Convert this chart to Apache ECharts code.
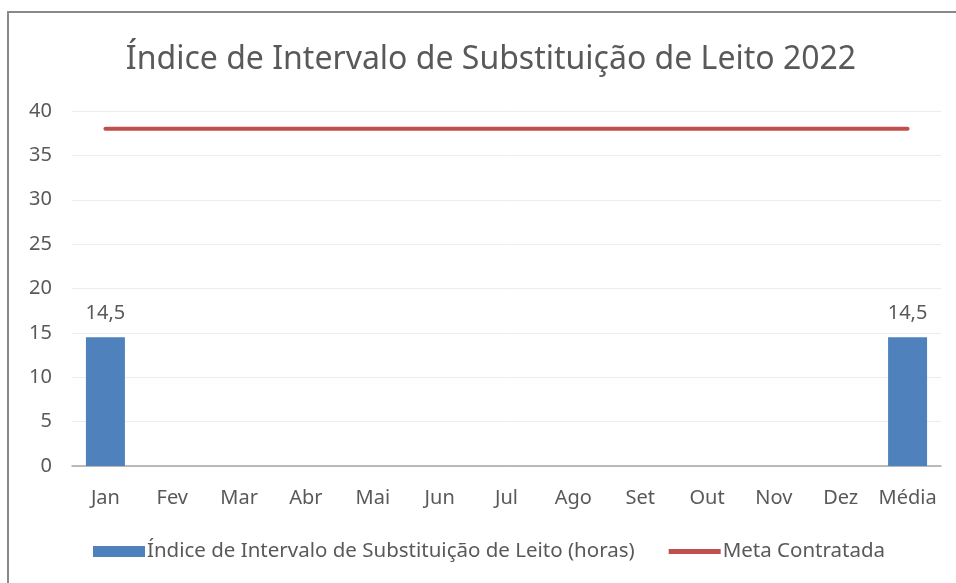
<!DOCTYPE html>
<html>
<head>
<meta charset="utf-8">
<script src="https://cdn.jsdelivr.net/npm/echarts@6/dist/echarts.min.js"></script>
<style>
  html, body { margin: 0; padding: 0; background: #fff; }
  #chart { width: 956px; height: 583px; }
</style>
</head>
<body>
<div id="chart"></div>
<script>
const meses = ['Jan', 'Fev', 'Mar', 'Abr', 'Mai', 'Jun', 'Jul', 'Ago', 'Set', 'Out', 'Nov', 'Dez', 'Média'];
const indiceHoras = [14.5, null, null, null, null, null, null, null, null, null, null, null, 14.5];
const metaContratada = [38, 38, 38, 38, 38, 38, 38, 38, 38, 38, 38, 38, 38];

const fonte = '"Noto Sans", sans-serif';
const cinza = '#595959';

let myChart = echarts.init(document.getElementById('chart'));
let option = {
  animation: false,
  textStyle: { fontFamily: fonte },
  title: {
    text: 'Índice de Intervalo de Substituição de Leito 2022',
    left: 486,
    textAlign: 'center',
    top: 39,
    textStyle: { fontFamily: fonte, fontSize: 32, fontWeight: 'normal', color: cinza }
  },
  graphic: [{
    type: 'rect',
    shape: { x: 8, y: 12, width: 1000, height: 1000 },
    style: { fill: 'none', stroke: '#898989', lineWidth: 2 },
    silent: true
  }],
  grid: { left: 72, right: 15, top: 111, bottom: 117 },
  legend: {
    bottom: 16,
    left: 88,
    itemGap: 34,
    itemWidth: 52,
    itemHeight: 11,
    symbolKeepAspect: true,
    textStyle: { fontFamily: fonte, fontSize: 20.5, color: cinza, padding: [0, 0, 0, -3] },
    data: [
      { name: 'Índice de Intervalo de Substituição de Leito (horas)', icon: 'rect' },
      { name: 'Meta Contratada', icon: 'path://M0,0 L52,0 L52,5 L0,5 Z' }
    ]
  },
  xAxis: {
    type: 'category',
    data: meses,
    axisLine: { lineStyle: { color: '#a6a6a6', width: 1.5 } },
    axisTick: { show: false },
    axisLabel: { color: cinza, fontSize: 20, margin: 22, interval: 0 }
  },
  yAxis: {
    type: 'value',
    min: 0,
    max: 40,
    interval: 5,
    axisLine: { show: false },
    axisTick: { show: false },
    axisLabel: { color: cinza, fontSize: 20, margin: 20 },
    splitLine: { lineStyle: { color: '#ececec', width: 1 } }
  },
  series: [
    {
      name: 'Índice de Intervalo de Substituição de Leito (horas)',
      type: 'bar',
      data: indiceHoras,
      barWidth: 39,
      itemStyle: { color: '#4f81bd' },
      label: {
        show: true,
        position: 'top',
        distance: 14,
        color: cinza,
        fontSize: 20,
        formatter: p => String(p.value).replace('.', ',')
      }
    },
    {
      name: 'Meta Contratada',
      type: 'line',
      data: metaContratada,
      symbol: 'none',
      lineStyle: { color: '#c0504d', width: 4, cap: 'round' },
      itemStyle: { color: '#c0504d' }
    }
  ]
};
myChart.setOption(option);
</script>
</body>
</html>
